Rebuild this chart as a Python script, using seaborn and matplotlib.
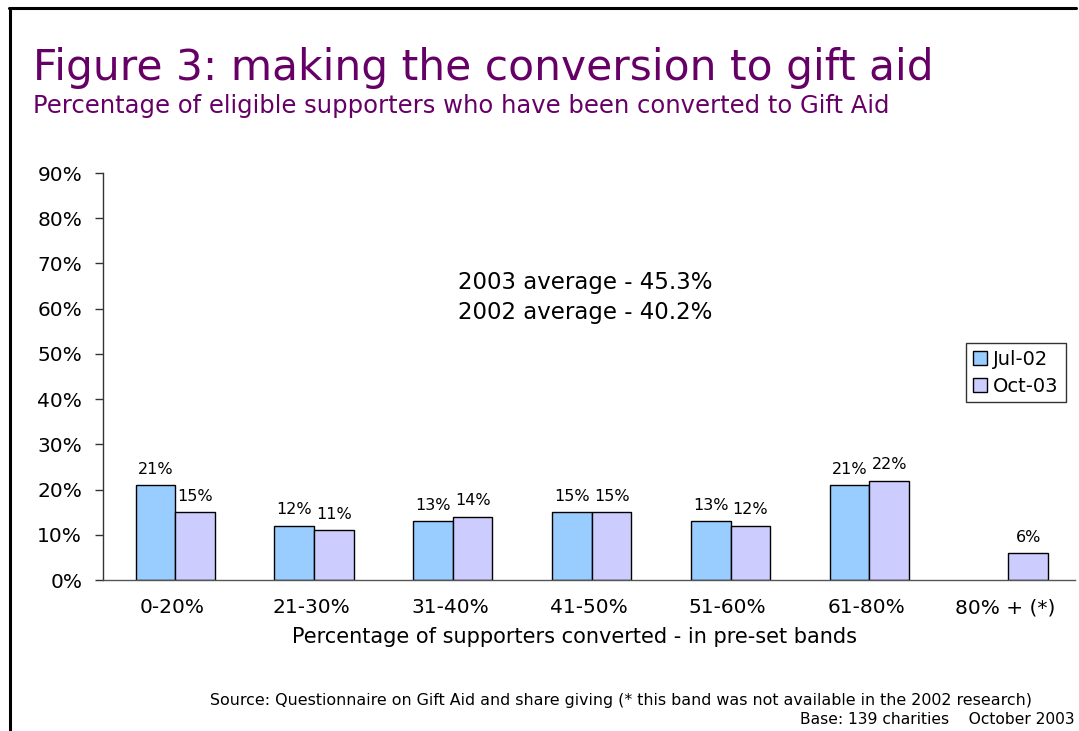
import numpy as np
import pandas as pd
import matplotlib
matplotlib.use("Agg")
import matplotlib.pyplot as plt
import matplotlib.transforms as mtransforms
import seaborn as sns
from matplotlib.ticker import FuncFormatter

# Survey results: share of charities in each conversion band
bands = ["0-20%", "21-30%", "31-40%", "41-50%", "51-60%", "61-80%", "80% + (*)"]
jul_02 = [21, 12, 13, 15, 13, 21, np.nan]
oct_03 = [15, 11, 14, 15, 12, 22, 6]
series_names = ["Jul-02", "Oct-03"]
series_colors = ["#99CCFF", "#CCCCFF"]

y_ticks = list(range(0, 91, 10))

df = pd.DataFrame({
    "band": bands * 2,
    "value": jul_02 + oct_03,
    "series": [series_names[0]] * len(bands) + [series_names[1]] * len(bands),
})

sns.set_style("white")
plt.rcParams["font.family"] = ["DejaVu Sans"]
plt.rcParams["text.color"] = "black"

fig = plt.figure(figsize=(10.79, 7.31), dpi=100)
ax = fig.add_axes([103 / 1079, 1 - 580 / 731, (1075 - 103) / 1079, (580 - 173) / 731])

sns.barplot(
    data=df, x="band", y="value", hue="series", order=bands,
    hue_order=series_names, palette=series_colors, width=0.57,
    edgecolor="black", linewidth=1.0, saturation=1, ax=ax,
)

ax.set_ylim(0, 90)
ax.set_xlim(-0.52, len(bands) - 0.52)
ax.set_yticks(y_ticks)
ax.yaxis.set_major_formatter(FuncFormatter(lambda v, p: f"{v:.0f}%"))
ax.tick_params(axis="y", which="major", direction="out", length=6, width=1,
               color="#333333", labelsize=14.5, pad=9, left=True,
               labelcolor="black")
ax.tick_params(axis="x", length=0, labelsize=14.5, pad=13, labelcolor="black")

# Category labels sit a little left of the bar pairs
shift = mtransforms.ScaledTranslation(-3 / 100, 0, fig.dpi_scale_trans)
for lbl in ax.get_xticklabels():
    lbl.set_transform(lbl.get_transform() + shift)

for side in ("top", "right"):
    ax.spines[side].set_visible(False)
ax.spines["left"].set_color("#333333")
ax.spines["bottom"].set_color("#555555")
ax.spines["left"].set_linewidth(1)
ax.spines["bottom"].set_linewidth(1)

ax.set_xlabel("")
ax.set_ylabel("")

# Value labels above each bar
for cont in ax.containers:
    labels = []
    for p in cont.patches:
        h = p.get_height()
        labels.append("" if np.isnan(h) or h == 0 else f"{h:.0f}%")
    ax.bar_label(cont, labels=labels, padding=6, fontsize=11.5, color="black")

leg = ax.legend(
    loc="upper left", bbox_to_anchor=((966 - 103) / 972, (580 - 343) / 407),
    frameon=True, fancybox=False, edgecolor="black", fontsize=14,
    handlelength=0.75, handleheight=0.75, handletextpad=0.3,
    borderpad=0.35, labelspacing=0.4, borderaxespad=0,
)
leg.get_frame().set_linewidth(1)
for t in leg.get_texts():
    t.set_color("black")

purple = "#660066"
fig.text(33 / 1079, 1 - 80 / 731, "Figure 3: making the conversion to gift aid",
         fontsize=30.5, color=purple, ha="left", va="baseline")
fig.text(33 / 1079, 1 - 113 / 731,
         "Percentage of eligible supporters who have been converted to Gift Aid",
         fontsize=17.5, color=purple, ha="left", va="baseline")

fig.text(585 / 1079, 1 - 283 / 731, "2003 average - 45.3%", fontsize=16.5,
         ha="center", va="center", color="black")
fig.text(585 / 1079, 1 - 312 / 731, "2002 average - 40.2%", fontsize=16.5,
         ha="center", va="center", color="black")

fig.text(575 / 1079, 1 - 637 / 731,
         "Percentage of supporters converted - in pre-set bands",
         fontsize=15, ha="center", va="center", color="black")

fig.text(621 / 1079, 1 - 700 / 731,
         "Source: Questionnaire on Gift Aid and share giving (* this band was not available in the 2002 research)",
         fontsize=11.4, ha="center", va="center", color="black")
fig.text(1075 / 1079, 1 - 719 / 731, "Base: 139 charities    October 2003",
         fontsize=11.2, ha="right", va="center", color="black")

# Frame lines along the top and left edges
fig.add_artist(plt.Line2D([9 / 1079, 1076 / 1079], [1 - 8 / 731, 1 - 8 / 731],
                          transform=fig.transFigure, color="black", linewidth=2.2))
fig.add_artist(plt.Line2D([9.5 / 1079, 9.5 / 1079], [0, 1 - 8 / 731],
                          transform=fig.transFigure, color="black", linewidth=2.2))

fig.savefig("out.png", dpi=100, facecolor="white")
